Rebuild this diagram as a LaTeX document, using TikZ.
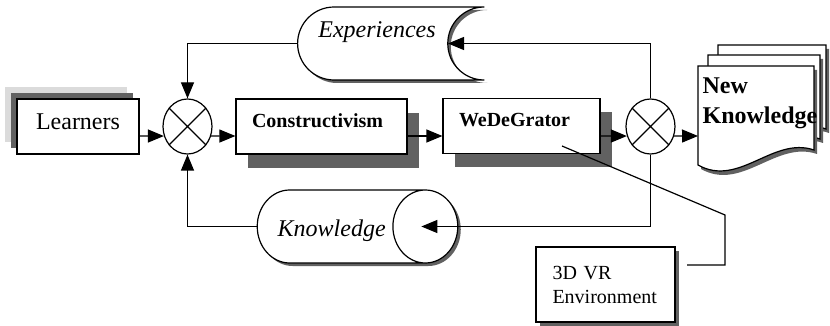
\documentclass[tikz,border=0pt]{standalone}
\usepackage{fontspec}
\setmainfont{Liberation Serif}
\usetikzlibrary{arrows.meta,shapes.geometric,shapes.misc,shadows}

\definecolor{shadegray}{gray}{0.38}
\definecolor{halogray}{gray}{0.86}

\tikzset{
  block/.style={draw, fill=white, rectangle, minimum height=27.5pt, inner xsep=8pt,
    general shadow={fill=shadegray, shadow xshift=6pt, shadow yshift=-7pt},
    font=\fontsize{10}{12}\selectfont\bfseries, align=left,
    text height=7pt, text depth=6.4pt},
  mixer/.style={draw, fill=white, ellipse, minimum width=24.5pt,
    minimum height=27.5pt, inner sep=0pt},
  store/.style={draw, fill=white,
    drop shadow={shadow xshift=1.5pt, shadow yshift=-1.5pt, fill=shadegray, opacity=1},
    font=\fontsize{12}{14}\selectfont\itshape},
  page/.style={draw, fill=white,
    drop shadow={shadow xshift=1.5pt, shadow yshift=-2pt, fill=shadegray, opacity=1}},
  flow/.style={-{Triangle[length=8pt,width=6.5pt]}},
}

\begin{document}
\begin{tikzpicture}[x=0.5pt, y=-0.5pt, line width=0.6pt]
    \useasboundingbox (0,0) rectangle (830,326);

    % learners with the stacked shadow up and left
    \node[draw, fill=white, minimum width=61pt, minimum height=27.5pt,
      general shadow={fill=halogray, shadow xshift=-6pt, shadow yshift=6pt},
      general shadow={fill=shadegray, shadow xshift=-3pt, shadow yshift=3pt},
      font=\fontsize{12}{14}\selectfont, text height=9pt, text depth=5.6pt]
      (learners) at (78,126.5) {Learners};

    \node[mixer] (sum1) at (187.5,126.5) {};
    \node[mixer] (sum2) at (650.5,126.5) {};
    \draw (sum1.45) -- (sum1.225) (sum1.135) -- (sum1.-45);
    \draw (sum2.45) -- (sum2.225) (sum2.135) -- (sum2.-45);

    \node[block, text width=69.5pt] (cons) at (321.5,126.5) {Constructivism};
    \node[block, text width=62.5pt] (wede) at (521.5,126) {WeDeGrator};

    \node[store, rounded rectangle, rounded rectangle right arc=concave,
      minimum width=100pt, minimum height=36.5pt, anchor=west,
      text height=9pt, text depth=14.6pt] (exp) at (297,43.5) {Experiences};
    \node[store, cylinder, aspect=1.6, minimum width=36.5pt, minimum height=90pt,
      anchor=shape center, text height=12pt, text depth=1.6pt]
      (know) at (357.5,226.5) {Knowledge};

    \node[draw, fill=white,
      drop shadow={shadow xshift=2pt, shadow yshift=-2pt, fill=shadegray, opacity=1},
      align=left, text width=53pt, inner xsep=8.25pt, minimum height=37.5pt,
      font=\fontsize{10}{12}\selectfont] (vr) at (605.5,284.5) {3D VR\\Environment};

    % stack of documents
    \filldraw[page] (718,45) -- (718,144) .. controls (756,167) and (788,115) .. (826,129) -- (826,45) -- cycle;
    \filldraw[page] (708,55) -- (708,154) .. controls (747,177) and (781,125) .. (820,139) -- (820,55) -- cycle;
    \filldraw[page] (698,66) -- (698,165) .. controls (739,188) and (773,136) .. (814,150) -- (814,66) -- cycle;
    \node[anchor=north west, inner xsep=2pt, inner ysep=5.5pt, align=left,
      font=\fontsize{12}{15}\selectfont\bfseries] (newk) at (698,66) {New\\Knowledge};

    % main line and feedback loops
    \coordinate (main) at (0,136);
    \draw[flow] (learners.east |- main) -- (sum1.202);
    \draw[flow] (sum1.-22) -- (cons.west |- main);
    \draw[flow] (cons.east |- main) -- (wede.west |- main);
    \draw[flow] (wede.east |- main) -- (sum2.202);
    \draw[flow] (sum2.-22) -- (newk.west |- main);
    \draw[flow] (sum2.north) |- ([xshift=75.5pt]exp.west);
    \draw[flow] (exp.west) -| (sum1.north);
    \draw[flow] (sum2.south) |- ([xshift=-18.5pt]know.top);
    \draw[flow] (know.bottom) -| (sum1.south);

    % pointer to the 3D VR box
    \coordinate (hook) at (562,146);
    \coordinate (bend) at (725,215);
    \coordinate (tail) at (687,265);
    \draw (hook) -- (bend) |- (tail);
\end{tikzpicture}
\end{document}
